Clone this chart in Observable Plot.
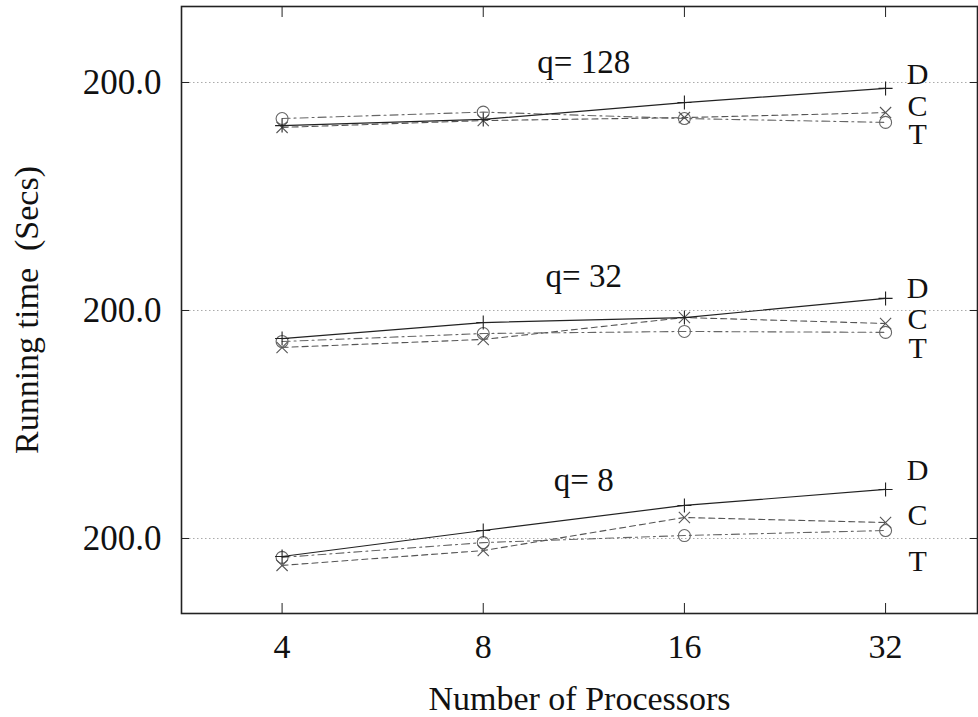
<!DOCTYPE html>
<html><head><meta charset="utf-8">
<script src="https://cdn.jsdelivr.net/npm/d3@7"></script>
<script src="https://cdn.jsdelivr.net/npm/@observablehq/plot@0.6"></script>
<style>body{margin:0;background:#fff}</style>
</head><body><div id="chart"></div>
<script>
// ---- data ----
const processors = [4, 8, 16, 32];
const xTickLabels = ["4", "8", "16", "32"];
const panels = ["q= 8", "q= 32", "q= 128"];
const panelBase = [0, 100, 200];            // vertical stacking offset of each panel
const seriesNames = ["D", "C", "T"];

const q8_D = [192.1, 203.5, 214.5, 221.5];
const q8_C = [188.2, 194.7, 209.2, 207.0];
const q8_T = [191.7, 198.2, 201.3, 203.5];
const q32_D = [187.7, 194.7, 196.9, 205.3];
const q32_C = [183.8, 187.3, 196.9, 194.3];
const q32_T = [186.4, 189.9, 190.8, 190.4];
const q128_D = [181.1, 183.8, 191.2, 197.4];
const q128_C = [180.3, 183.3, 184.6, 186.8];
const q128_T = [184.2, 187.0, 184.2, 182.5];

const yTicks = [200, 300, 400];
const yTickLabels = ["200.0", "200.0", "200.0"];

// annotation anchors (data units)
const seriesLabelY_q8 = [229.8, 210.1, 189.9];
const seriesLabelY_q32 = [309.6, 296.1, 283.3];
const seriesLabelY_q128 = [403.5, 389.5, 377.2];
const panelLabelY = [225.4, 314.9, 408.8];
const panelLabelX = 11.31;
const seriesLabelX = 32;

// ---- build table ----
const valuesByPanel = [
  [q8_D, q8_C, q8_T],
  [q32_D, q32_C, q32_T],
  [q128_D, q128_C, q128_T]
];
const rows = panels.flatMap((q, pi) =>
  seriesNames.flatMap((s, si) =>
    processors.map((p, i) => ({q, s, p, y: valuesByPanel[pi][si][i] + panelBase[pi]}))));
const labelYs = [seriesLabelY_q8, seriesLabelY_q32, seriesLabelY_q128];
const labelRows = panels.flatMap((q, pi) =>
  seriesNames.map((s, si) => ({s, y: labelYs[pi][si]})));
const panelRows = panels.map((q, pi) => ({q, y: panelLabelY[pi]}));

const plusSym = {draw(ctx, size) { const r = Math.sqrt(size / Math.PI);
  ctx.moveTo(-r, 0); ctx.lineTo(r, 0); ctx.moveTo(0, -r); ctx.lineTo(0, r); }};
const timesSym = {draw(ctx, size) { const r = Math.sqrt(size / Math.PI) * 0.8;
  ctx.moveTo(-r, -r); ctx.lineTo(r, r); ctx.moveTo(-r, r); ctx.lineTo(r, -r); }};

const only = s => rows.filter(r => r.s === s);

const chart = Plot.plot({
  width: 978, height: 717,
  marginLeft: 181, marginRight: 1, marginTop: 6, marginBottom: 104,
  style: {fontFamily: "'Liberation Serif', 'Times New Roman', serif", fontSize: "34px", color: "#111", background: "#fff"},
  x: {type: "log", base: 2, domain: [2 ** 1.5, 2 ** 5.457]},
  y: {domain: [167.1, 433.33]},
  marks: [
    Plot.ruleY(yTicks, {stroke: "#aaa", strokeDasharray: "1.5,2.5"}),
    Plot.axisX({ticks: processors, tickSize: 0, tickPadding: 20, fontSize: 34,
      tickFormat: d => xTickLabels[processors.indexOf(d)], label: null}),
    Plot.axisX({anchor: "bottom", ticks: processors, tickSize: -10, tickFormat: () => "", label: null, stroke: "#222"}),
    Plot.axisX({anchor: "top", ticks: processors, tickSize: -10, tickFormat: () => "", label: null, stroke: "#222"}),
    Plot.axisY({ticks: yTicks, tickSize: 0, tickPadding: 20, fontSize: 35,
      tickFormat: d => yTickLabels[yTicks.indexOf(d)], label: null}),
    Plot.axisY({anchor: "left", ticks: yTicks, tickSize: -8, tickFormat: () => "", label: null, stroke: "#222"}),
    Plot.axisY({anchor: "right", ticks: yTicks, tickSize: -8, tickFormat: () => "", label: null, stroke: "#222"}),
    Plot.line(only("T"), {x: "p", y: "y", z: "q", stroke: "#666", strokeWidth: 1.1, strokeDasharray: "8,4,2,4"}),
    Plot.line(only("C"), {x: "p", y: "y", z: "q", stroke: "#555", strokeWidth: 1.1, strokeDasharray: "6,4"}),
    Plot.line(only("D"), {x: "p", y: "y", z: "q", stroke: "#222", strokeWidth: 1.2}),
    Plot.dot(only("T"), {x: "p", y: "y", symbol: "circle", r: 6, stroke: "#666", fill: "none", strokeWidth: 1.1}),
    Plot.dot(only("C"), {x: "p", y: "y", symbol: timesSym, r: 7, stroke: "#555", fill: "none", strokeWidth: 1.1}),
    Plot.dot(only("D"), {x: "p", y: "y", symbol: plusSym, r: 7, stroke: "#222", fill: "none", strokeWidth: 1.1}),
    Plot.text(labelRows, {x: () => seriesLabelX, y: "y", text: "s", dx: 32, fontSize: 30, fill: "#111"}),
    Plot.text(panelRows, {x: () => panelLabelX, y: "y", text: "q", fontSize: 33, fill: "#111"}),
    Plot.text(["Number of Processors"], {frameAnchor: "bottom", dy: 96, text: d => d, fontSize: 34, fill: "#111"}),
    Plot.text(["Running time \u00a0(Secs)"], {frameAnchor: "left", textAnchor: "middle", dx: -154, rotate: -90, text: d => d, fontSize: 34, fill: "#111"}),
    Plot.frame({stroke: "#222", strokeWidth: 1.6})
  ]
});
document.getElementById("chart").appendChild(chart);
</script>
</body></html>
